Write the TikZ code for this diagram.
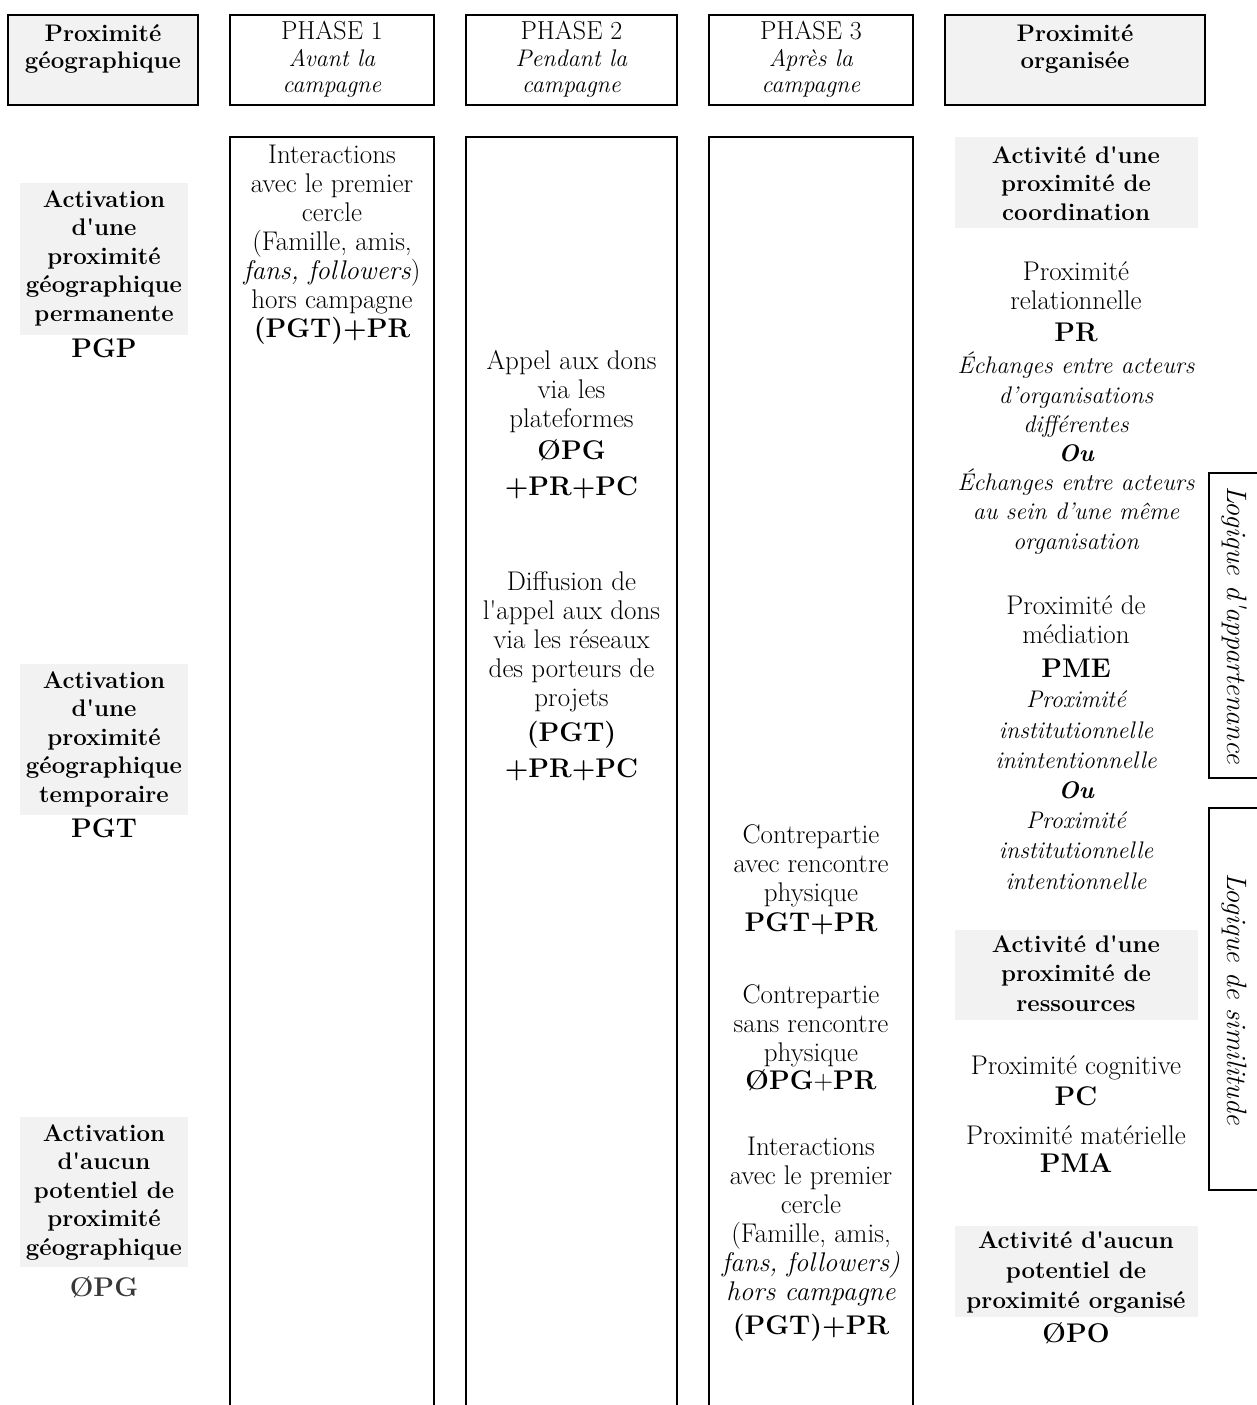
\documentclass[tikz,border=0pt]{standalone}
\definecolor{graybg}{HTML}{F2F2F2}
\newcommand{\sq}{\textquotesingle}
\begin{document}
\begin{tikzpicture}[x=1pt,y=-1pt,
  frame/.style={draw=black, line width=2.2pt},
  colbox/.style={draw=black, line width=2pt},
  shade/.style={fill=graybg, draw=none},
  txt/.style={align=center, inner sep=0pt, anchor=north, font=\fontsize{27}{29}\selectfont},
  btxt/.style={txt, font=\fontsize{24}{28.5}\selectfont\bfseries},
  itxt/.style={txt, font=\fontsize{24}{29.2}\selectfont\itshape},
  hdr/.style={txt, font=\fontsize{24}{26.5}\selectfont},
  code/.style={inner sep=0pt, anchor=base, font=\fontsize{27}{30}\selectfont\bfseries},
  logic/.style={inner sep=0pt, rotate=-90, font=\fontsize{28}{30}\selectfont\itshape},
]
\useasboundingbox (0,0) rectangle (1257,1405);

% ---------- header row ----------
\draw[frame, fill=graybg] (8,15) rectangle (198,105);
\draw[frame] (230,15) rectangle (434,105);
\draw[frame] (466,15) rectangle (677,105);
\draw[frame] (709,15) rectangle (913,105);
\draw[frame, fill=graybg] (945,15) rectangle (1205,105);
\node[btxt, font=\fontsize{24}{27}\selectfont\bfseries] (hgeo) at (103,24) {Proximité\\géographique};
\node[hdr] (hp1) at (332,21) {{\fontsize{26}{26.5}\selectfont PHASE 1}\\\textit{Avant la}\\\textit{campagne}};
\node[hdr] (hp2) at (571.5,21) {{\fontsize{26}{26.5}\selectfont PHASE 2}\\\textit{Pendant la}\\\textit{campagne}};
\node[hdr] (hp3) at (811,21) {{\fontsize{26}{26.5}\selectfont PHASE 3}\\\textit{Après la}\\\textit{campagne}};
\node[btxt, font=\fontsize{24}{27}\selectfont\bfseries] (horg) at (1075,24) {Proximité\\organisée};

% ---------- phase columns ----------
\draw[colbox] (230,137) rectangle (434,1430);
\draw[colbox] (466,137) rectangle (677,1430);
\draw[colbox] (709,137) rectangle (913,1430);

% ---------- left column ----------
\fill[shade] (20,183) rectangle (188,335);
\node[btxt] (gp) at (104,190) {Activation\\d\sq une\\proximité\\géographique\\permanente};
\node[code] (pgp) at (104,357) {PGP};
\fill[shade] (20,664) rectangle (188,815);
\node[btxt] (gt) at (104,671) {Activation\\d\sq une\\proximité\\géographique\\temporaire};
\node[code] (pgt) at (104,837) {PGT};
\fill[shade] (20,1117) rectangle (188,1267);
\node[btxt] (ga) at (104,1124) {Activation\\d\sq aucun\\potentiel de\\proximité\\géographique};
\node[code, text=black!78] (opg) at (104,1296) {ØPG};

% ---------- phase 1 ----------
\node[txt] (p1a) at (332,145) {Interactions\\avec le premier\\cercle\\(Famille, amis,\\\textit{fans, followers})\\hors campagne};
\node[code] (p1c) at (332,337) {(PGT)+PR};

% ---------- phase 2 ----------
\node[txt] (p2a) at (571.5,350) {Appel aux dons\\via les\\plateformes};
\node[code] (p2c1) at (571.5,459) {ØPG};
\node[code] (p2c2) at (571.5,495) {+PR+PC};
\node[txt] (p2b) at (571.5,571) {Diffusion de\\l\sq appel aux dons\\via les réseaux\\des porteurs de\\projets};
\node[code] (p2c3) at (571.5,741) {(PGT)};
\node[code] (p2c4) at (571.5,777) {+PR+PC};

% ---------- phase 3 ----------
\node[txt] (p3a) at (811,824) {Contrepartie\\avec rencontre\\physique};
\node[code] (p3c1) at (811,931) {PGT+PR};
\node[txt] (p3b) at (811,984) {Contrepartie\\sans rencontre\\physique};
\node[code] (p3c2) at (811,1089) {ØPG{\mdseries+}PR};
\node[txt] (p3d) at (811,1137) {Interactions\\avec le premier\\cercle\\(Famille, amis,\\\textit{fans, followers)}\\\textit{hors campagne}};
\node[code] (p3c3) at (811,1334) {(PGT)+PR};

% ---------- right column ----------
\fill[shade] (955,137) rectangle (1198,228);
\node[btxt] (rco) at (1076,146) {Activité d\sq une\\proximité de\\coordination};
\node[txt] (rpr) at (1076,262) {Proximité\\relationnelle};
\node[code] (cpr) at (1076,341) {PR};
\node[itxt] (rpri) at (1076,352) {Échanges entre acteurs\\d’organisations\\différentes\\\textbf{Ou}\\Échanges entre acteurs\\au sein d’une même\\organisation};
\node[txt] (rme) at (1076,596) {Proximité de\\médiation};
\node[code] (cme) at (1076,677) {PME};
\node[itxt, font=\fontsize{24}{30.2}\selectfont\itshape] (rmei) at (1076,691) {Proximité\\institutionnelle\\inintentionnelle\\\textbf{Ou}\\Proximité\\institutionnelle\\intentionnelle};
\fill[shade] (955,930) rectangle (1198,1020);
\node[btxt, font=\fontsize{24}{29.5}\selectfont\bfseries] (rre) at (1076,935) {Activité d\sq une\\proximité de\\ressources};
\node[txt] (rpc) at (1076,1055) {Proximité cognitive};
\node[code] (cpc) at (1076,1105) {PC};
\node[txt] (rpm) at (1076,1125) {Proximité matérielle};
\node[code] (cpm) at (1076,1172) {PMA};
\fill[shade] (955,1226) rectangle (1198,1317);
\node[btxt, font=\fontsize{24}{30}\selectfont\bfseries] (rau) at (1076,1231) {Activité d\sq aucun\\potentiel de\\proximité organisé};
\node[code] (cpo) at (1076,1342) {ØPO};

% ---------- logic boxes ----------
\draw[frame] (1209,473) rectangle (1275,778);
\node[logic] (lapp) at (1234,625) {Logique d\sq appartenance};
\draw[frame] (1209,808) rectangle (1275,1190);
\node[logic] (lsim) at (1234,999) {Logique de similitude};
\end{tikzpicture}
\end{document}
